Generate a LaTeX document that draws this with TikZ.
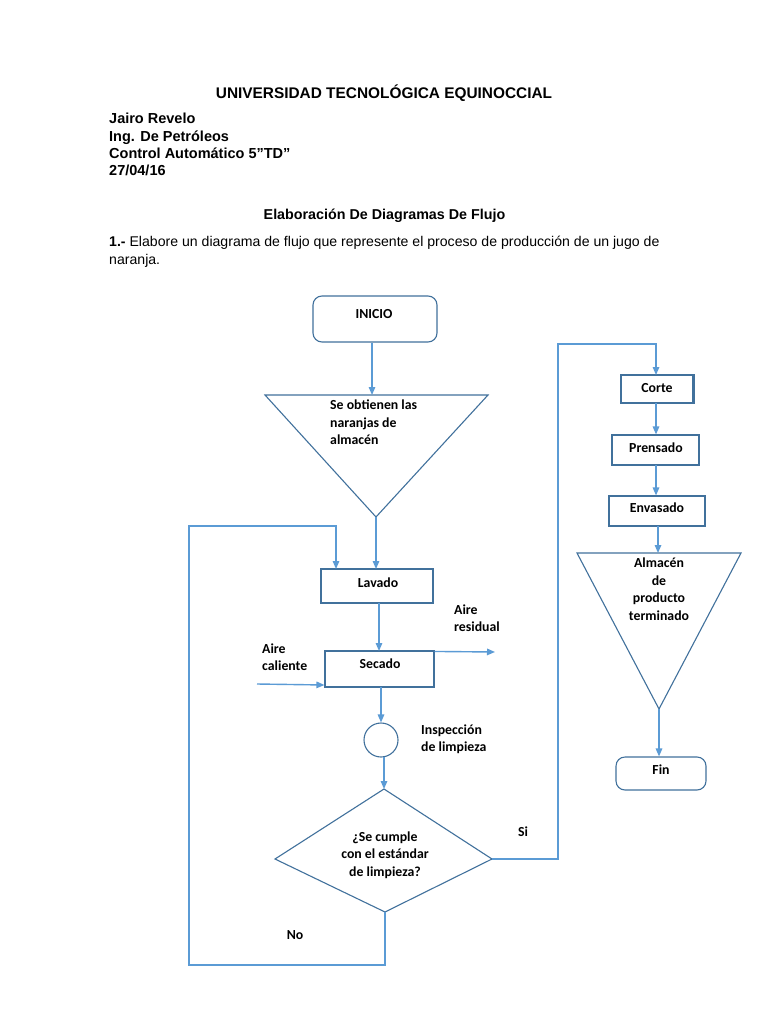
\documentclass[tikz,border=0pt]{standalone}
\usepackage{fontspec}
\setmainfont{Liberation Sans}
\newfontfamily\calfont{Carlito}
\usetikzlibrary{arrows.meta}
\definecolor{shp}{HTML}{41719C}
\definecolor{arw}{HTML}{5B9BD5}
\begin{document}
\begin{tikzpicture}[x=1pt,y=-1pt,
  hdr/.style={inner sep=0pt, anchor=base west, font=\bfseries\fontsize{14.5}{17}\selectfont},
  dtext/.style={inner sep=0pt, font=\calfont\bfseries\fontsize{13.8}{17.5}\selectfont},
  box/.style={draw=shp, line width=1.1pt, inner sep=0pt, dtext},
  rbox/.style={box, rounded corners=9pt},
  shapeline/.style={draw=shp, line width=1.1pt, line join=miter},
  conn/.style={draw=arw, line width=1.4pt, -{Triangle[length=8pt,width=6.5pt]}},
  plain/.style={draw=arw, line width=1.4pt}]
\useasboundingbox (0,0) rectangle (768,1024);
\fill[white] (0,0) rectangle (768,1024);

% header
\node[inner sep=0pt, anchor=base, font=\bfseries\fontsize{15.4}{17}\selectfont] (title) at (384,99) {UNIVERSIDAD TECNOLÓGICA EQUINOCCIAL};
\node[hdr] (l1) at (109,124) {Jairo Revelo};
\node[hdr] (l2) at (109,141.5) {Ing. De Petróleos};
\node[hdr] (l3) at (109,158.5) {Control Automático 5”TD”};
\node[hdr] (l4) at (109,175.5) {27/04/16};
\node[inner sep=0pt, anchor=base, font=\bfseries\fontsize{14.3}{17}\selectfont] (sub) at (384.5,219) {Elaboración De Diagramas De Flujo};
\node[inner sep=0pt, anchor=base west, font=\fontsize{14.1}{17}\selectfont] (q1) at (109,246) {\textbf{1.-} Elabore un diagrama de flujo que represente el proceso de producción de un jugo de};
\node[inner sep=0pt, anchor=base west, font=\fontsize{14.1}{17}\selectfont] (q2) at (109,264) {naranja.};

% left column
\node[rbox, minimum width=124pt, minimum height=46pt] (inicio) at (375,319) {};
\node[dtext] (inicioT) at (374,314) {INICIO};

\coordinate (t1a) at (265,395);
\coordinate (t1b) at (488,395);
\coordinate (t1c) at (376,517);
\path[shapeline] (t1a) -- (t1b) -- (t1c) -- cycle;
\node[dtext, anchor=north west, align=left] (t1T) at (330,400) {Se obtienen las\\naranjas de\\almacén};

\node[box, minimum width=112pt, minimum height=34pt] (lavado) at (377,586) {};
\node[dtext] (lavadoT) at (378,583) {Lavado};
\node[box, minimum width=109pt, minimum height=36pt] (secado) at (379.5,669) {};
\node[dtext] (secadoT) at (380,664) {Secado};
\node[circle, draw=shp, line width=1.1pt, minimum size=34pt, inner sep=0pt] (insp) at (381,740) {};

\coordinate (dt) at (384,789);
\coordinate (dl) at (275,859);
\coordinate (dr) at (492,859);
\coordinate (db) at (385,912);
\path[shapeline] (dt) -- (dr) -- (db) -- (dl) -- cycle;
\node[dtext, align=center] (dT) at (385,855) {¿Se cumple\\con el estándar\\de limpieza?};

% labels
\node[dtext, anchor=west, align=left] (resid) at (454,618) {Aire\\residual};
\node[dtext, anchor=west, align=left] (cal) at (262,657) {Aire\\caliente};
\node[dtext, anchor=west, align=left] (inspT) at (421,739) {Inspección\\de limpieza};
\node[dtext] (si) at (523,832) {Si};
\node[dtext] (no) at (295,935) {No};

% right column
\node[box, minimum width=72pt, minimum height=28pt] (corte) at (657,389) {};
\node[dtext] (corteT) at (657,388) {Corte};
\draw[shp, line width=2.2pt] (corte.north east) -- (corte.south east);
\node[box, minimum width=87pt, minimum height=30pt] (prensado) at (655.5,450) {};
\node[dtext] (prensadoT) at (656,448) {Prensado};
\node[box, minimum width=96pt, minimum height=30pt] (envasado) at (657,511) {};
\node[dtext] (envasadoT) at (657,508) {Envasado};
\coordinate (t2a) at (577,553);
\coordinate (t2b) at (741,553);
\coordinate (t2c) at (659,709);
\path[shapeline] (t2a) -- (t2b) -- (t2c) -- cycle;
\node[dtext, anchor=north, align=center] (t2T) at (659,558) {Almacén\\de\\producto\\terminado};
\node[rbox, minimum width=90pt, minimum height=33pt] (fin) at (661,773.5) {};
\node[dtext] (finT) at (661,770) {Fin};

% connectors
\draw[conn] (inicio.south -| 372,0) -- (372,395);
\draw[conn] (t1c) -- (376,569);
\draw[conn] (379,603) -- (379,651);
\draw[conn] (secado.north east) ++(0,1) -- (495,652);
\coordinate (calstart) at (257,684);
\draw[conn] (calstart) -- (secado.west |- 0,685);
\draw[conn] (381,687) -- (insp.north);
\draw[conn] (384,757) -- (dt);
% No loop
\coordinate (n1) at (385,965);
\coordinate (n2) at (189,965);
\coordinate (n3) at (189,526);
\coordinate (n4) at (336,526);
\draw[conn] (db) -- (n1) -- (n2) -- (n3) -- (n4) -- (336,569);
% Si loop
\coordinate (s1) at (558,859);
\coordinate (s2) at (558,344);
\coordinate (s3) at (656,344);
\draw[conn] (dr) -- (s1) -- (s2) -- (s3) -- (656,375);
\draw[conn] (656,403) -- (prensado.north -| 656,0);
\draw[conn] (656,465) -- (envasado.north -| 656,0);
\draw[conn] (658,526) -- (658,553);
\draw[conn] (t2c) -- (fin.north -| 659,0);
\end{tikzpicture}
\end{document}
